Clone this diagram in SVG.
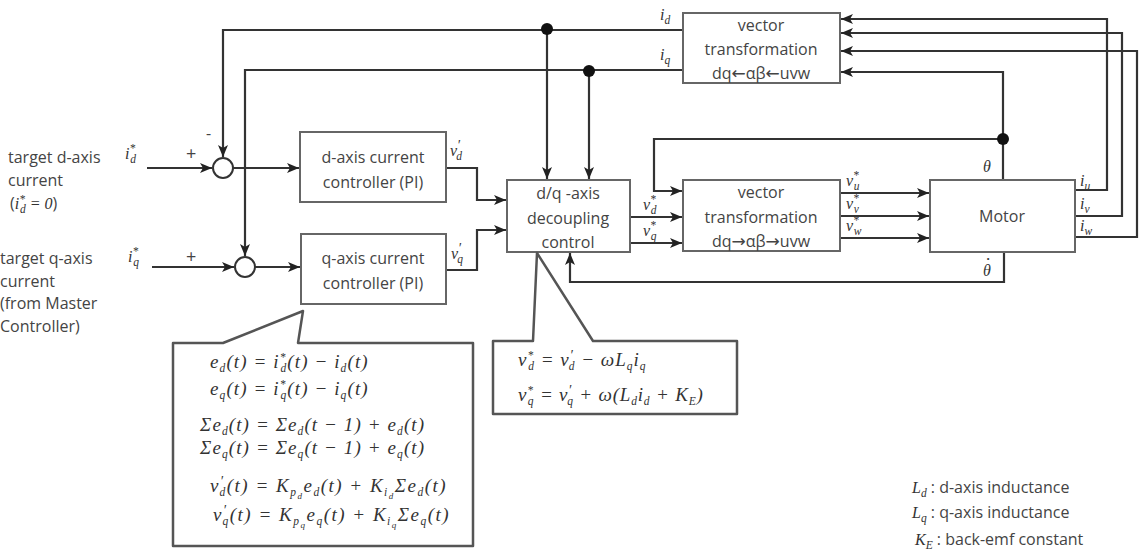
<svg xmlns="http://www.w3.org/2000/svg" width="1141" height="554" viewBox="0 0 1141 554">
<style>
.box{fill:#fff;stroke:#666;stroke-width:2}
.ln{fill:none;stroke:#333;stroke-width:2.2}
.ar{marker-end:url(#ah)}
.t{font-family:"Open Sans","Liberation Sans",sans-serif;font-size:16px;fill:#444;text-anchor:middle}
.l{font-family:"Open Sans","Liberation Sans",sans-serif;font-size:16px;fill:#444}
.m{font-family:"Liberation Serif",serif;font-style:italic;font-size:16px;fill:#333}
.f{font-family:"Liberation Serif",serif;font-style:italic;font-size:19px;letter-spacing:1.1px;fill:#333}
.s{font-size:11.5px}
.p{font-size:14px}
.aw{font-family:"DejaVu Sans",sans-serif;font-size:17px}
.co{fill:#fff;stroke:#555;stroke-width:2.5;stroke-linejoin:round}
</style>
<defs>
<marker id="ah" viewBox="0 0 12 10" refX="12" refY="5" markerWidth="12" markerHeight="10" markerUnits="userSpaceOnUse" orient="auto"><path d="M0,0 L12,5 L0,10 L3,5 z" fill="#222"/></marker>
</defs>

<g id="connectors">
<path class="ln ar" d="M683,30 H223 V157"/>
<path class="ln ar" d="M683,70 H245 V256"/>
<path class="ln ar" d="M547,30 V179"/>
<path class="ln ar" d="M589,70 V179"/>
<circle cx="547" cy="29" r="6" fill="#111"/>
<circle cx="589" cy="71" r="6" fill="#111"/>
<path class="ln ar" d="M147,168 H212"/>
<path class="ln ar" d="M152,267 H234"/>
<path class="ln ar" d="M233,168 H299"/>
<path class="ln ar" d="M255,267 H300"/>
<path class="ln ar" d="M446,168 H477 V200 H506"/>
<path class="ln ar" d="M446,270 H477 V230 H506"/>
<path class="ln ar" d="M630,217 H682"/>
<path class="ln ar" d="M630,243 H682"/>
<path class="ln ar" d="M840,193 H929"/>
<path class="ln ar" d="M840,216 H929"/>
<path class="ln ar" d="M840,238 H929"/>
<path class="ln ar" d="M1003,180 V72 H841"/>
<path class="ln ar" d="M1003,139 H654 V191 H682"/>
<circle cx="1003" cy="139" r="6" fill="#111"/>
<path class="ln ar" d="M1004,252 V282 H570 V253"/>
<path class="ln ar" d="M1075,190 H1107 V19 H841"/>
<path class="ln ar" d="M1075,216 H1122 V33 H841"/>
<path class="ln ar" d="M1075,237 H1137 V51 H841"/>
</g>

<g id="sum_d"><circle cx="223" cy="168" r="10" fill="#fff" stroke="#333" stroke-width="2"/></g>
<g id="sum_q"><circle cx="245" cy="267" r="10" fill="#fff" stroke="#333" stroke-width="2"/></g>

<g id="vt1">
<rect class="box" x="683" y="13" width="157" height="70"/>
<text class="t" x="761" y="31">vector</text>
<text class="t" x="761" y="55">transformation</text>
<text class="t" x="761" y="79">dq<tspan class="aw">←</tspan>αβ<tspan class="aw">←</tspan>uvw</text>
</g>
<g id="dctrl">
<rect class="box" x="300" y="132" width="146" height="70"/>
<text class="t" x="373" y="163">d-axis current</text>
<text class="t" x="373" y="188">controller (PI)</text>
</g>
<g id="qctrl">
<rect class="box" x="301" y="234" width="145" height="70"/>
<text class="t" x="373" y="264">q-axis current</text>
<text class="t" x="373" y="289">controller (PI)</text>
</g>
<g id="decoupling">
<rect class="box" x="507" y="180" width="123" height="72"/>
<text class="t" x="568" y="199">d/q -axis</text>
<text class="t" x="568" y="224">decoupling</text>
<text class="t" x="568" y="248">control</text>
</g>
<g id="vt2">
<rect class="box" x="683" y="180" width="157" height="71"/>
<text class="t" x="761" y="198">vector</text>
<text class="t" x="761" y="223">transformation</text>
<text class="t" x="761" y="247">dq<tspan class="aw">→</tspan>αβ<tspan class="aw">→</tspan>uvw</text>
</g>
<g id="motor">
<rect class="box" x="930" y="180" width="145" height="72"/>
<text class="t" x="1002" y="222">Motor</text>
</g>

<g id="labels">
<text class="m" x="660" y="20">i<tspan class="s" dy="4">d</tspan></text>
<text class="m" x="660" y="60">i<tspan class="s" dy="4">q</tspan></text>
<text class="m" x="450" y="156">v<tspan class="p" dy="-6">′</tspan><tspan class="s" dx="-4" dy="10">d</tspan></text>
<text class="m" x="451" y="259">v<tspan class="p" dy="-6">′</tspan><tspan class="s" dx="-4" dy="10">q</tspan></text>
<text class="m" x="643" y="210">v<tspan class="s" dy="-7">*</tspan><tspan class="s" dx="-5" dy="11">d</tspan></text>
<text class="m" x="643" y="236">v<tspan class="s" dy="-7">*</tspan><tspan class="s" dx="-5" dy="11">q</tspan></text>
<text class="m" x="846" y="186">v<tspan class="s" dy="-7">*</tspan><tspan class="s" dx="-5" dy="11">u</tspan></text>
<text class="m" x="846" y="209">v<tspan class="s" dy="-7">*</tspan><tspan class="s" dx="-5" dy="11">v</tspan></text>
<text class="m" x="846" y="231">v<tspan class="s" dy="-7">*</tspan><tspan class="s" dx="-5" dy="11">w</tspan></text>
<text class="m" x="1080" y="186">i<tspan class="s" dy="4">u</tspan></text>
<text class="m" x="1080" y="209">i<tspan class="s" dy="4">v</tspan></text>
<text class="m" x="1080" y="231">i<tspan class="s" dy="4">w</tspan></text>
<text class="m" x="983" y="172">θ</text>
<text class="m" x="983" y="276">θ<tspan dx="-7" dy="-5" style="font-size:19px">˙</tspan></text>
<text class="m" x="125" y="159">i<tspan class="s" dy="-7">*</tspan><tspan class="s" dx="-5" dy="11">d</tspan></text>
<text class="m" x="128" y="262">i<tspan class="s" dy="-7">*</tspan><tspan class="s" dx="-5" dy="11">q</tspan></text>
<text class="l" x="186" y="160" style="font-size:18px">+</text>
<text class="l" x="186" y="263" style="font-size:18px">+</text>
<text class="l" x="206" y="139">-</text>
<text class="l" x="8" y="163">target d-axis</text>
<text class="l" x="8" y="186">current</text>
<text class="l" x="10" y="209">(<tspan class="m">i<tspan class="s" dy="-6">*</tspan><tspan class="s" dx="-5" dy="10">d</tspan><tspan dy="-4"> = 0</tspan></tspan>)</text>
<text class="l" x="0" y="264">target q-axis</text>
<text class="l" x="0" y="287">current</text>
<text class="l" x="0" y="309">(from Master</text>
<text class="l" x="0" y="332">Controller)</text>
</g>

<g id="callout_pi">
<path class="co" d="M173,343 H223 L303,311 L298,343 H473 V546 H173 Z"/>
<text class="f" x="210" y="368">e<tspan class="s" dy="4">d</tspan><tspan dy="-4">(t) = i</tspan><tspan class="s" dy="-7">*</tspan><tspan class="s" dx="-6" dy="11">d</tspan><tspan dy="-4">(t) − i</tspan><tspan class="s" dy="4">d</tspan><tspan dy="-4">(t)</tspan></text>
<text class="f" x="210" y="395">e<tspan class="s" dy="4">q</tspan><tspan dy="-4">(t) = i</tspan><tspan class="s" dy="-7">*</tspan><tspan class="s" dx="-6" dy="11">q</tspan><tspan dy="-4">(t) − i</tspan><tspan class="s" dy="4">q</tspan><tspan dy="-4">(t)</tspan></text>
<text class="f" x="200" y="431">Σe<tspan class="s" dy="4">d</tspan><tspan dy="-4">(t) = Σe</tspan><tspan class="s" dy="4">d</tspan><tspan dy="-4">(t − 1) + e</tspan><tspan class="s" dy="4">d</tspan><tspan dy="-4">(t)</tspan></text>
<text class="f" x="200" y="454">Σe<tspan class="s" dy="4">q</tspan><tspan dy="-4">(t) = Σe</tspan><tspan class="s" dy="4">q</tspan><tspan dy="-4">(t − 1) + e</tspan><tspan class="s" dy="4">q</tspan><tspan dy="-4">(t)</tspan></text>
<text class="f" x="210" y="492" style="letter-spacing:1.5px">v<tspan class="p" dy="-6">′</tspan><tspan class="s" dx="-5" dy="10">d</tspan><tspan dy="-4">(t) = K</tspan><tspan class="s" dy="4">p</tspan><tspan style="font-size:9px" dy="3">d</tspan><tspan dy="-7">e</tspan><tspan class="s" dy="4">d</tspan><tspan dy="-4">(t) + K</tspan><tspan class="s" dy="4">i</tspan><tspan style="font-size:9px" dy="3">d</tspan><tspan dy="-7">Σe</tspan><tspan class="s" dy="4">d</tspan><tspan dy="-4">(t)</tspan></text>
<text class="f" x="213" y="521" style="letter-spacing:1.5px">v<tspan class="p" dy="-6">′</tspan><tspan class="s" dx="-5" dy="10">q</tspan><tspan dy="-4">(t) = K</tspan><tspan class="s" dy="4">p</tspan><tspan style="font-size:9px" dy="3">q</tspan><tspan dy="-7">e</tspan><tspan class="s" dy="4">q</tspan><tspan dy="-4">(t) + K</tspan><tspan class="s" dy="4">i</tspan><tspan style="font-size:9px" dy="3">q</tspan><tspan dy="-7">Σe</tspan><tspan class="s" dy="4">q</tspan><tspan dy="-4">(t)</tspan></text>
</g>

<g id="callout_dec">
<path class="co" d="M493,341 H533 L537,253 L593,341 H737 V414 H493 Z"/>
<text class="f" x="518" y="366" style="letter-spacing:1px">v<tspan class="s" dy="-7">*</tspan><tspan class="s" dx="-6" dy="11">d</tspan><tspan dy="-4"> = v</tspan><tspan class="p" dy="-6">′</tspan><tspan class="s" dx="-5" dy="10">d</tspan><tspan dy="-4"> − ωL</tspan><tspan class="s" dy="4">q</tspan><tspan dy="-4">i</tspan><tspan class="s" dy="4">q</tspan></text>
<text class="f" x="518" y="401" style="letter-spacing:0.8px">v<tspan class="s" dy="-7">*</tspan><tspan class="s" dx="-6" dy="11">q</tspan><tspan dy="-4"> = v</tspan><tspan class="p" dy="-6">′</tspan><tspan class="s" dx="-5" dy="10">q</tspan><tspan dy="-4"> + ω(L</tspan><tspan class="s" dy="4">d</tspan><tspan dy="-4">i</tspan><tspan class="s" dy="4">d</tspan><tspan dy="-4"> + K</tspan><tspan class="s" dy="4">E</tspan><tspan dy="-4">)</tspan></text>
</g>

<g id="legend">
<text class="l" x="912" y="493"><tspan class="m">L<tspan class="s" dy="4">d</tspan></tspan><tspan dy="-4"> : d-axis inductance</tspan></text>
<text class="l" x="912" y="518"><tspan class="m">L<tspan class="s" dy="4">q</tspan></tspan><tspan dy="-4"> : q-axis inductance</tspan></text>
<text class="l" x="915" y="545"><tspan class="m">K<tspan class="s" dy="4">E</tspan></tspan><tspan dy="-4"> : back-emf constant</tspan></text>
</g>
</svg>
